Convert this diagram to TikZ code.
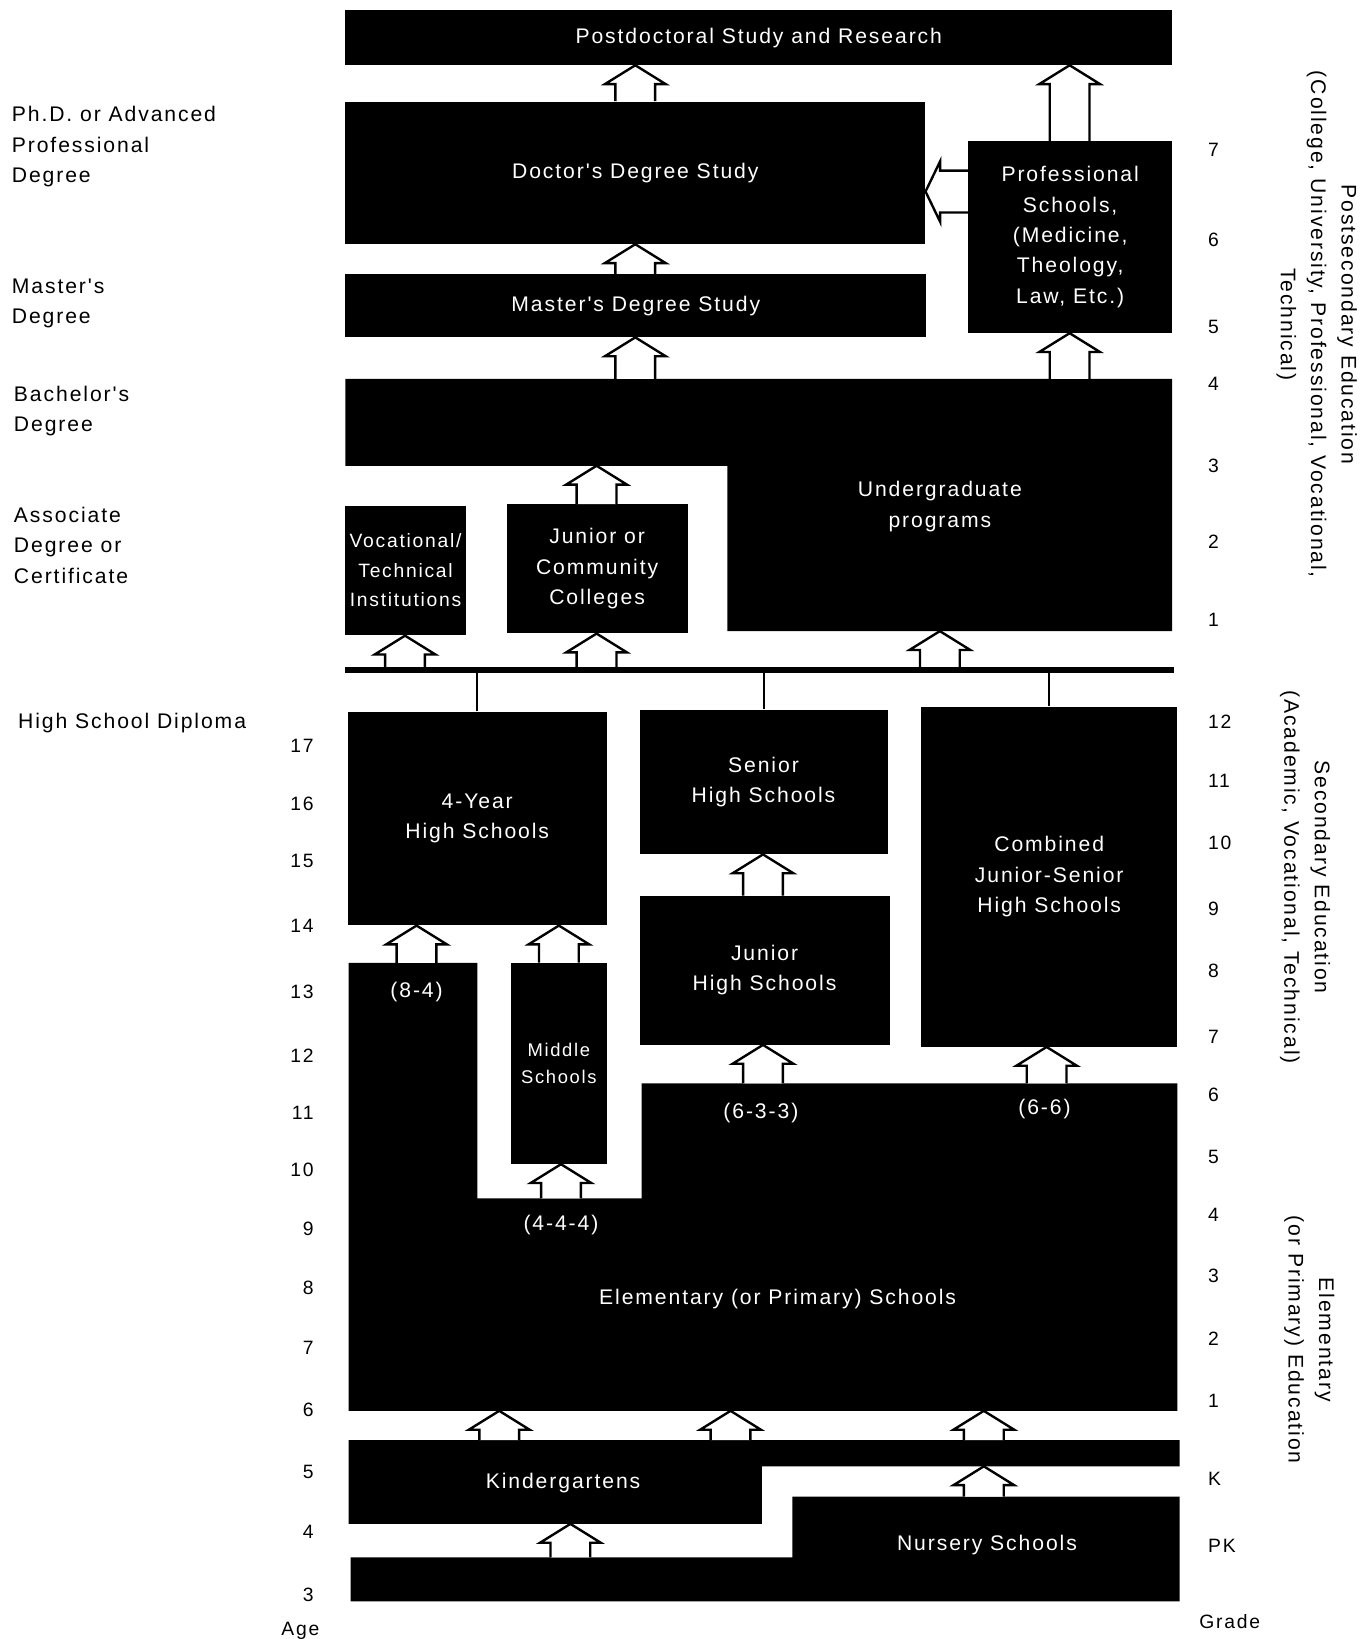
\documentclass[tikz,border=0pt]{standalone}
\usepackage{fontspec}
\newfontfamily\chartfont{Liberation Sans}[LetterSpace=9]
\usetikzlibrary{calc}

\tikzset{
    box/.style={fill=black, inner sep=0pt, text=white, align=center, font=\chartfont\fontsize{11.5}{16.5}\selectfont},
    blk/.style={fill=black},
    lbl/.style={text=white, align=center, inner sep=0pt, font=\chartfont\fontsize{11.5}{16.5}\selectfont},
    side/.style={anchor=west, align=left, inner sep=0pt, font=\chartfont\fontsize{11.5}{16.5}\selectfont},
    vert/.style={rotate=-90, align=center, inner sep=0pt, font=\chartfont\fontsize{11.5}{16.5}\selectfont},
    num/.style={inner sep=0pt, font=\chartfont\fontsize{10.5}{12}\selectfont},
    hollow/.style={draw=black, fill=white, line width=1.3pt},
    link/.style={line width=1.1pt},
    bar/.style={line width=3pt},
}

% outlined arrow pointing up: x, lower edge, upper edge
\newcommand{\hollowup}[3]{%
    \path (#1,0) coordinate (hx);
    \filldraw[hollow] ($(hx |- #2)+(-19,0)$) -- ($(hx |- #3)+(-19,18)$) -- ($(hx |- #3)+(-29,18)$) -- (hx |- #3)
        -- ($(hx |- #3)+(29,18)$) -- ($(hx |- #3)+(19,18)$) -- ($(hx |- #2)+(19,0)$);
}

\begin{document}
\begin{tikzpicture}[x=0.02cm, y=-0.02cm]
    \useasboundingbox (0,0) rectangle (1310,1566);

    % Postsecondary boxes
    \node[box, minimum width=15.8cm, minimum height=1.04cm] (post) at (725,36) {Postdoctoral Study and Research};
    \node[box, minimum width=11.08cm, minimum height=2.72cm] (doc) at (607,165) {Doctor's Degree Study};
    \node[box, minimum width=3.9cm, minimum height=3.66cm] (prof) at (1022.5,226.5) {Professional\\Schools,\\(Medicine,\\Theology,\\Law, Etc.)};
    \node[box, minimum width=11.1cm, minimum height=1.2cm] (mast) at (607.5,292) {Master's Degree Study};
    \node[box, minimum width=2.3cm, minimum height=2.48cm, font=\chartfont\fontsize{10.5}{16}\selectfont] (voc) at (387.5,545) {Vocational/\\Technical\\Institutions};
    \node[box, minimum width=3.46cm, minimum height=2.46cm] (jrcol) at (570.5,543.5) {Junior or\\Community\\Colleges};

    \fill[blk] (330,362) coordinate (ug-top) -- (1120,362) -- (1120,603) coordinate (ug-se) -- (695,603)
        -- (695,445) -- (330,445) coordinate (ug-sw) -- cycle;
    \node[lbl] (ug) at (898,484) {Undergraduate\\programs};

    % Secondary boxes
    \node[box, minimum width=4.96cm, minimum height=4.08cm] (fouryr) at (456,782) {4-Year\\High Schools};
    \node[box, minimum width=4.74cm, minimum height=2.76cm] (senhs) at (729.5,747) {Senior\\High Schools};
    \node[box, minimum width=4.9cm, minimum height=6.5cm] (combhs) at (1002.5,837.5) {Combined\\Junior-Senior\\High Schools};
    \node[box, minimum width=4.78cm, minimum height=2.84cm] (jrhs) at (730.5,927) {Junior\\High Schools};
    \node[box, minimum width=1.84cm, minimum height=3.84cm, font=\chartfont\fontsize{10}{15}\selectfont] (middle) at (534,1016) {Middle\\Schools};

    % Elementary and earlier
    \fill[blk] (333,920) coordinate (el-84) -- (456,920) -- (456,1145) coordinate (el-444) -- (613,1145)
        -- (613,1035) coordinate (el-633) -- (1125,1035) -- (1125,1348) coordinate (el-bot) -- (333,1348) -- cycle;
    \node[lbl] (el84) at (398,948) {(8-4)};
    \node[lbl] (el633) at (727,1063) {(6-3-3)};
    \node[lbl] (el66) at (998,1060) {(6-6)};
    \node[lbl] (el444) at (536,1170) {(4-4-4)};
    \node[lbl] (elem) at (743,1241) {Elementary (or Primary) Schools};

    \fill[blk] (333,1376) coordinate (kg-top) -- (1127,1376) -- (1127,1401) coordinate (kg-strip) -- (728,1401)
        -- (728,1456) -- (333,1456) coordinate (kg-bot) -- cycle;
    \node[lbl] (kinder) at (538,1417) {Kindergartens};

    \fill[blk] (757,1430) coordinate (ns-top) -- (1127,1430) -- (1127,1530) -- (335,1530)
        -- (335,1488) coordinate (ns-low) -- (757,1488) -- cycle;
    \node[lbl] (nursery) at (943,1476) {Nursery Schools};

    % Arrows
    \hollowup{607}{doc.north}{post.south}
    \hollowup{1022}{prof.north}{post.south}
    \hollowup{607}{mast.north}{doc.south}
    \hollowup{607}{ug-top}{mast.south}
    \hollowup{1022}{ug-top}{prof.south}
    \hollowup{570}{jrcol.north}{ug-sw}
    \path (0,183) coordinate (ly);
    \filldraw[hollow] ($(prof.west |- ly)+(0,-20)$) -- ($(doc.east |- ly)+(14,-20)$) -- ($(doc.east |- ly)+(14,-29)$)
        -- (doc.east |- ly) -- ($(doc.east |- ly)+(14,29)$) -- ($(doc.east |- ly)+(14,20)$) -- ($(prof.west |- ly)+(0,20)$);

    \coordinate (bar-w) at (330,640);
    \coordinate (bar-e) at (1122,640);
    \hollowup{387}{bar-w}{voc.south}
    \hollowup{570}{bar-w}{jrcol.south}
    \hollowup{898}{bar-w}{ug-se}
    \draw[bar] (bar-w) -- (bar-e);
    \draw[link] (fouryr.north) -- (fouryr.north |- bar-w);
    \draw[link] (senhs.north) -- (senhs.north |- bar-w);
    \draw[link] (combhs.north) -- (combhs.north |- bar-w);

    \hollowup{398}{el-84}{fouryr.south}
    \hollowup{534}{middle.north}{fouryr.south}
    \hollowup{536}{el-444}{middle.south}
    \hollowup{729}{jrhs.north}{senhs.south}
    \hollowup{729}{el-633}{jrhs.south}
    \hollowup{1000}{el-633}{combhs.south}
    \foreach \x in {477,698,940} {
        \hollowup{\x}{kg-top}{el-bot}
    }
    \hollowup{545}{ns-low}{kg-bot}
    \hollowup{940}{ns-top}{kg-strip}

    % Level labels
    \node[side] (phd) at (11,140) {Ph.D. or Advanced\\Professional\\Degree};
    \node[side] (msd) at (11,290) {Master's\\Degree};
    \node[side] (bad) at (13,393) {Bachelor's\\Degree};
    \node[side] (asd) at (13,521) {Associate\\Degree or\\Certificate};
    \node[side] (hsd) at (17,691) {High School Diploma};

    \node[vert] (postsec) at (1258,310) {Postsecondary Education\\(College, University, Professional, Vocational,\\Technical)};
    \node[vert] (second) at (1247,838) {Secondary Education\\(Academic, Vocational, Technical)};
    \node[vert] (primary) at (1251,1280) {Elementary\\(or Primary) Education};

    % Ages and grades
    \foreach \a/\y in {17/713,16/768,15/823,14/885,13/948,12/1009,11/1063,10/1118,9/1174,8/1230,7/1288,6/1347,5/1406,4/1464,3/1524} {
        \node[num, anchor=east] (age\a) at (300,\y) {\a};
    }
    \node[num] (agelbl) at (287,1558) {Age};
    \foreach \g/\y [count=\i] in {7/143,6/229,5/312,4/367,3/445,2/518,1/592,12/690,11/746,10/805,9/868,8/928,7/991,6/1046,5/1105,4/1161,3/1219,2/1279,1/1338,K/1413,PK/1477} {
        \node[num, anchor=west] (grade\i) at (1154,\y) {\g};
    }
    \node[num] (gradelbl) at (1175,1549) {Grade};
\end{tikzpicture}
\end{document}
